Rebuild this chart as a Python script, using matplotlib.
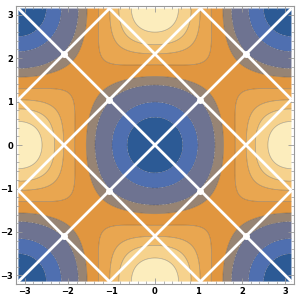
import numpy as np
import matplotlib.pyplot as plt

levels = [-0.905, -0.597, -0.195, 0.009, 0.26, 0.464, 0.601, 0.739]
band_colors = ['#2c5a95', '#4f6fb0', '#6e7391', '#978474', '#e1963f',
               '#e9a650', '#f0bb69', '#f6d28d', '#fcedbd']
# second harmonic weight of the surface
harmonic = -0.08

# white mesh lines x+y=c and x-y=c
mesh_offsets = [-4 * np.pi / 3, -2 * np.pi / 3, 0, 2 * np.pi / 3, 4 * np.pi / 3]
# white points
dot_x = [-np.pi / 3, np.pi / 3, -np.pi / 3, np.pi / 3,
         -2 * np.pi / 3, 2 * np.pi / 3, -2 * np.pi / 3, 2 * np.pi / 3]
dot_y = [np.pi / 3, np.pi / 3, -np.pi / 3, -np.pi / 3,
         2 * np.pi / 3, 2 * np.pi / 3, -2 * np.pi / 3, -2 * np.pi / 3]
ticks = [-3, -2, -1, 0, 1, 2, 3]


def surface(x, y):
    return -np.cos(x) * np.cos(y) + harmonic * (np.cos(2 * x) + np.cos(2 * y))


t = np.linspace(-np.pi, np.pi, 400)
X, Y = np.meshgrid(t, t)
Z = surface(X, Y)

fig = plt.figure(figsize=(3, 3), dpi=100)
ax = fig.add_axes([0.053, 0.053, 0.927, 0.927])

ax.contourf(X, Y, Z, levels=[-5] + levels + [5], colors=band_colors,
            antialiased=True)
ax.contour(X, Y, Z, levels=levels, colors='#3a3a3a', linewidths=0.5, alpha=0.4)

for c in mesh_offsets:
    ax.plot(t, t + c, color='white', lw=2.0, solid_capstyle='butt')
    ax.plot(t, -t + c, color='white', lw=2.0, solid_capstyle='butt')
ax.plot(dot_x, dot_y, 'o', color='white', ms=5, mec='none')

ax.set_xlim(-np.pi, np.pi)
ax.set_ylim(-np.pi, np.pi)
ax.set_xticks(ticks)
ax.set_yticks(ticks)
ax.set_xticks(np.arange(-3.2, 3.21, 0.2), minor=True)
ax.set_yticks(np.arange(-3.2, 3.21, 0.2), minor=True)
ax.set_xticklabels(['\u22123', '\u22122', '\u22121', '0', '1', '2', '3'])
ax.set_yticklabels(['\u22123', '\u22122', '\u22121', '0', '1', '2', '3'])
ax.tick_params(which='both', direction='in', top=True, right=True,
               color='#999999', labelsize=6, pad=2)
ax.tick_params(which='major', length=4, width=0.6)
ax.tick_params(which='minor', length=2, width=0.5)
for s in ax.spines.values():
    s.set_color('#999999')
    s.set_linewidth(0.8)
for lab in ax.get_xticklabels() + ax.get_yticklabels():
    lab.set_fontweight('bold')

fig.savefig('out.png', dpi=100)
